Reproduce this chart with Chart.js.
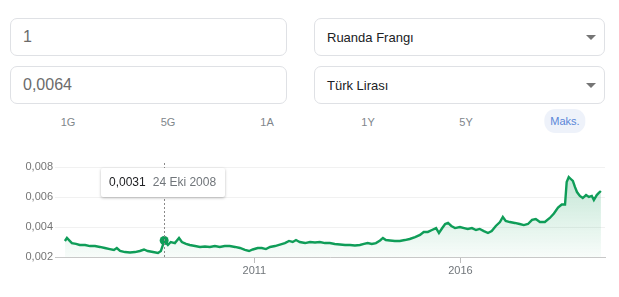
<!DOCTYPE html>
<html lang="tr">
<head>
<meta charset="utf-8">
<script src="https://cdn.jsdelivr.net/npm/chart.js@4/dist/chart.umd.min.js"></script>
<style>
  body { margin: 0; width: 619px; height: 297px; background: #fff; position: relative; overflow: hidden;
         font-family: "Liberation Sans", Arial, sans-serif; }
  .box { position: absolute; box-sizing: border-box; border: 1px solid #dfe1e5; border-radius: 7px; height: 38px; }
  .box span { position: absolute; left: 12px; top: 50%; transform: translateY(-50%); white-space: nowrap; }
  .num span { font-size: 16px; color: #6b6b6b; }
  .sel span { font-size: 13px; color: #202124; }
  .arrow { position: absolute; right: 8px; top: 16px; width: 0; height: 0;
           border-left: 5px solid transparent; border-right: 5px solid transparent; border-top: 5px solid #757575; }
  .range { position: absolute; top: 112px; height: 20px; line-height: 20px; font-size: 11px; color: #80868b;
           transform: translateX(-50%); white-space: nowrap; }
  .range.on { color: #5a86d8; background: #eef2fa; border-radius: 11px; padding: 2px 6px; top: 109px; }
  #chartWrap { position: absolute; left: 0; top: 150px; width: 619px; height: 140px; }
  #tip { position: absolute; top: 168px; height: 29px; line-height: 29px; background: #fff; padding: 0 9px 0 8px;
         box-shadow: 0 1px 3px rgba(0,0,0,0.28); border-radius: 2px; font-size: 12px; white-space: nowrap; }
  #tip b { font-weight: normal; color: #202124; margin-right: 7px; }
  #tip i { font-style: normal; color: #70757a; }
</style>
</head>
<body>
<div class="box num" style="left:10px;top:18px;width:277px"><span>1</span></div>
<div class="box num" style="left:10px;top:66px;width:277px"><span>0,0064</span></div>
<div class="box sel" style="left:314px;top:18px;width:291px"><span>Ruanda Frangı</span><div class="arrow"></div></div>
<div class="box sel" style="left:314px;top:66px;width:291px"><span>Türk Lirası</span><div class="arrow"></div></div>
<div id="ranges"></div>
<div id="chartWrap"><canvas id="rateChart" width="619" height="140"></canvas></div>
<div id="tip"><b id="tipValue"></b><i id="tipDate"></i></div>
<script>
/** range buttons above the chart */
const rangeLabels = ["1G", "5G", "1A", "1Y", "5Y", "Maks."];
const rangeCenters = [68, 168, 267, 368, 466, 565];
const activeRange = "Maks.";

/** dates of the series, as decimal years */
const rateDates = [
  2006.40, 2006.45, 2006.50, 2006.57, 2006.67, 2006.76, 2006.89, 2007.01, 2007.13, 2007.25,
  2007.37, 2007.49, 2007.59, 2007.66, 2007.74, 2007.86, 2007.98, 2008.10, 2008.22, 2008.32,
  2008.41, 2008.54, 2008.66, 2008.73, 2008.78, 2008.81, 2008.90, 2008.97, 2009.07, 2009.17,
  2009.24, 2009.34, 2009.43, 2009.56, 2009.68, 2009.80, 2009.92, 2010.04, 2010.16, 2010.28,
  2010.40, 2010.53, 2010.65, 2010.77, 2010.87, 2010.96, 2011.08, 2011.18, 2011.28, 2011.38,
  2011.50, 2011.62, 2011.74, 2011.84, 2011.93, 2012.01, 2012.10, 2012.23, 2012.35, 2012.47,
  2012.59, 2012.71, 2012.83, 2012.95, 2013.08, 2013.20, 2013.32, 2013.44, 2013.56, 2013.66,
  2013.75, 2013.85, 2013.95, 2014.05, 2014.12, 2014.19, 2014.29, 2014.41, 2014.53, 2014.65,
  2014.77, 2014.90, 2015.02, 2015.11, 2015.21, 2015.31, 2015.41, 2015.48, 2015.56, 2015.63,
  2015.70, 2015.78, 2015.87, 2015.99, 2016.09, 2016.18, 2016.28, 2016.38, 2016.47, 2016.57,
  2016.67, 2016.76, 2016.86, 2016.96, 2017.03, 2017.10, 2017.20, 2017.32, 2017.44, 2017.54,
  2017.64, 2017.74, 2017.83, 2017.93, 2018.05, 2018.17, 2018.27, 2018.37, 2018.46, 2018.54,
  2018.58, 2018.63, 2018.68, 2018.73, 2018.78, 2018.83, 2018.90, 2018.97, 2019.05, 2019.12,
  2019.19, 2019.24, 2019.31, 2019.36, 2019.41
];
/** RWF -> TRY rate */
const rateValues = [
  0.00307, 0.00327, 0.00313, 0.00293, 0.00287, 0.00280, 0.00280, 0.00273, 0.00273, 0.00267,
  0.00260, 0.00253, 0.00247, 0.00260, 0.00240, 0.00233, 0.00230, 0.00233, 0.00240, 0.00250,
  0.00240, 0.00233, 0.00227, 0.00240, 0.00280, 0.00310, 0.00280, 0.00300, 0.00293, 0.00327,
  0.00300, 0.00287, 0.00280, 0.00273, 0.00267, 0.00270, 0.00267, 0.00273, 0.00267, 0.00273,
  0.00273, 0.00267, 0.00260, 0.00247, 0.00240, 0.00250, 0.00260, 0.00260, 0.00253, 0.00267,
  0.00273, 0.00283, 0.00293, 0.00307, 0.00300, 0.00313, 0.00300, 0.00293, 0.00300, 0.00297,
  0.00300, 0.00293, 0.00293, 0.00287, 0.00283, 0.00280, 0.00280, 0.00277, 0.00280, 0.00287,
  0.00293, 0.00287, 0.00293, 0.00310, 0.00327, 0.00313, 0.00310, 0.00307, 0.00307, 0.00313,
  0.00320, 0.00333, 0.00347, 0.00367, 0.00367, 0.00380, 0.00393, 0.00360, 0.00393, 0.00420,
  0.00427, 0.00407, 0.00393, 0.00400, 0.00393, 0.00387, 0.00393, 0.00380, 0.00387, 0.00373,
  0.00360, 0.00373, 0.00407, 0.00433, 0.00467, 0.00440, 0.00433, 0.00427, 0.00420, 0.00413,
  0.00420, 0.00447, 0.00453, 0.00433, 0.00433, 0.00460, 0.00490, 0.00530, 0.00550, 0.00550,
  0.00700, 0.00733, 0.00720, 0.00707, 0.00667, 0.00633, 0.00607, 0.00593, 0.00613, 0.00600,
  0.00607, 0.00580, 0.00613, 0.00627, 0.00640
];
const yTickValues = [0.002, 0.004, 0.006, 0.008];
const xTickYears = [2011, 2016];
/** the highlighted point */
const hoverDate = 2008.81;
const hoverValue = 0.0031;
const hoverLabel = "24 Eki 2008";

const GREEN = "#0f9d58";
const fmt = (v, d) => v.toFixed(d).replace(".", ",");

// range buttons
const ranges = document.getElementById("ranges");
rangeLabels.forEach((label, i) => {
    const el = document.createElement("div");
    el.className = "range" + (label === activeRange ? " on" : "");
    el.style.left = rangeCenters[i] + "px";
    el.textContent = label;
    ranges.appendChild(el);
});

Chart.defaults.font.family = '"Liberation Sans", Arial, sans-serif';

/** dashed hover line */
const hoverLine = {
    id: "hoverLine",
    afterDatasetsDraw(chart) {
        const x = Math.round(chart.scales.x.getPixelForValue(hoverDate)) + 0.5;
        const c = chart.ctx;
        c.save();
        c.strokeStyle = "#8a8a8a";
        c.lineWidth = 1;
        c.setLineDash([2, 2]);
        c.beginPath();
        c.moveTo(x, chart.chartArea.top - 4);
        c.lineTo(x, chart.chartArea.bottom);
        c.stroke();
        c.restore();
    },
};

const rateChart = new Chart(document.getElementById("rateChart"), {
    type: "line",
    data: {
        datasets: [
            {
                data: rateDates.map((d, i) => ({ x: d, y: rateValues[i] })),
                borderColor: GREEN,
                borderWidth: 2.4,
                pointRadius: 0,
                tension: 0,
                fill: "start",
                backgroundColor: (ctx) => {
                    const area = ctx.chart.chartArea;
                    if (!area) return "rgba(15,157,88,0.1)";
                    const g = ctx.chart.ctx.createLinearGradient(0, area.top, 0, area.bottom);
                    g.addColorStop(0, "rgba(15,157,88,0.27)");
                    g.addColorStop(1, "rgba(15,157,88,0.03)");
                    return g;
                },
            },
            {
                data: [{ x: hoverDate, y: hoverValue }],
                showLine: false,
                pointRadius: 4.5,
                pointBackgroundColor: GREEN,
                pointBorderWidth: 0,
            },
        ],
    },
    options: {
        animation: false,
        responsive: false,
        devicePixelRatio: 1,
        events: [],
        layout: { padding: { top: 17, right: 14, bottom: 3, left: 0 } },
        plugins: { legend: { display: false }, tooltip: { enabled: false } },
        scales: {
            x: {
                type: "linear",
                min: 2006.16,
                max: 2019.51,
                afterBuildTicks: (s) => { s.ticks = xTickYears.map((v) => ({ value: v })); },
                afterFit: (s) => { s.height = 30; },
                ticks: { callback: (v) => String(v), color: "#70757a", font: { size: 11 }, padding: 1, maxRotation: 0 },
                grid: { drawOnChartArea: false, drawTicks: true, tickLength: 6, color: "#bdbdbd" },
                border: { display: true, color: "#c8c8c8" },
            },
            y: {
                min: yTickValues[0],
                max: yTickValues[yTickValues.length - 1],
                afterBuildTicks: (s) => { s.ticks = yTickValues.map((v) => ({ value: v })); },
                afterFit: (s) => { s.width = 55; },
                ticks: { callback: (v) => fmt(v, 3), color: "#757575", font: { size: 11 }, padding: 2 },
                grid: { drawTicks: false, color: "#f1f1f1" },
                border: { display: false },
            },
        },
    },
    plugins: [hoverLine],
});

// tooltip anchored on the highlighted point
document.getElementById("tipValue").textContent = fmt(hoverValue, 4);
document.getElementById("tipDate").textContent = hoverLabel;
const tip = document.getElementById("tip");
const px = rateChart.scales.x.getPixelForValue(hoverDate);
tip.style.left = Math.round(px - 63) + "px";
</script>
</body>
</html>
